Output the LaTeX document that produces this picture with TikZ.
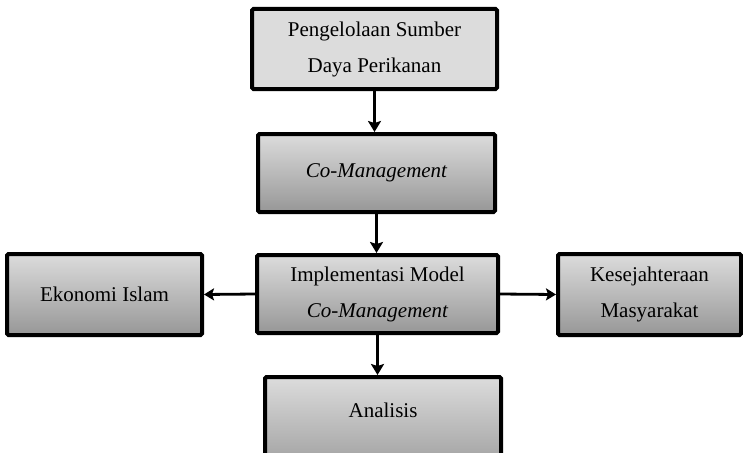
\documentclass[tikz,border=0pt]{standalone}
\usepackage{fontspec}
\setmainfont{Liberation Serif}
\usetikzlibrary{arrows.meta}
\begin{document}
\begin{tikzpicture}[x=1pt,y=-1pt,
  box/.style={draw=black, line width=4pt, rounded corners=1.5pt, align=center,
    font=\fontsize{21}{36}\selectfont, inner sep=0pt,
    top color=boxtop, bottom color=boxbottom},
  flatbox/.style={box, fill=boxflat, top color=boxflat, bottom color=boxflat},
  arrdown/.style={line width=3.5pt, -{Stealth[length=11pt,width=13pt,inset=2pt]}},
  arrside/.style={line width=2.8pt, -{Stealth[length=10pt,width=12pt,inset=2pt]}}]
\definecolor{boxtop}{HTML}{DCDCDC}
\definecolor{boxbottom}{HTML}{979797}
\definecolor{boxflat}{HTML}{DCDCDC}
\useasboundingbox (0,0) rectangle (743,452);
\clip (0,0) rectangle (743,452);
\node[flatbox, minimum width=245pt, minimum height=80pt] (sumber) at (374.5,49) {Pengelolaan Sumber\\Daya Perikanan};
\node[box, minimum width=237pt, minimum height=78pt] (comgmt) at (376.5,173) {\itshape Co-Management};
\node[box, minimum width=241pt, minimum height=78pt] (implementasi) at (377.5,294) {Implementasi Model\\\itshape Co-Management};
\node[box, minimum width=195pt, minimum height=81pt] (ekonomi) at (104.5,294.5) {Ekonomi Islam};
\node[box, minimum width=183pt, minimum height=81pt] (kesejahteraan) at (649.5,294.5) {Kesejahteraan\\Masyarakat};
\node[box, minimum width=236pt, text height=36pt, text depth=60pt, inner ysep=4pt, anchor=base] (analisis) at (383,417) {Analisis};
\draw[arrdown] (sumber.south) -- (sumber.south |- comgmt.north);
\draw[arrdown] (comgmt.south) -- (comgmt.south |- implementasi.north);
\draw[arrdown] (implementasi.south) -- (implementasi.south |- analisis.north);
\draw[arrside] (implementasi.west) -- (ekonomi.east);
\draw[arrside] (implementasi.east) -- (kesejahteraan.west);
\end{tikzpicture}
\end{document}
